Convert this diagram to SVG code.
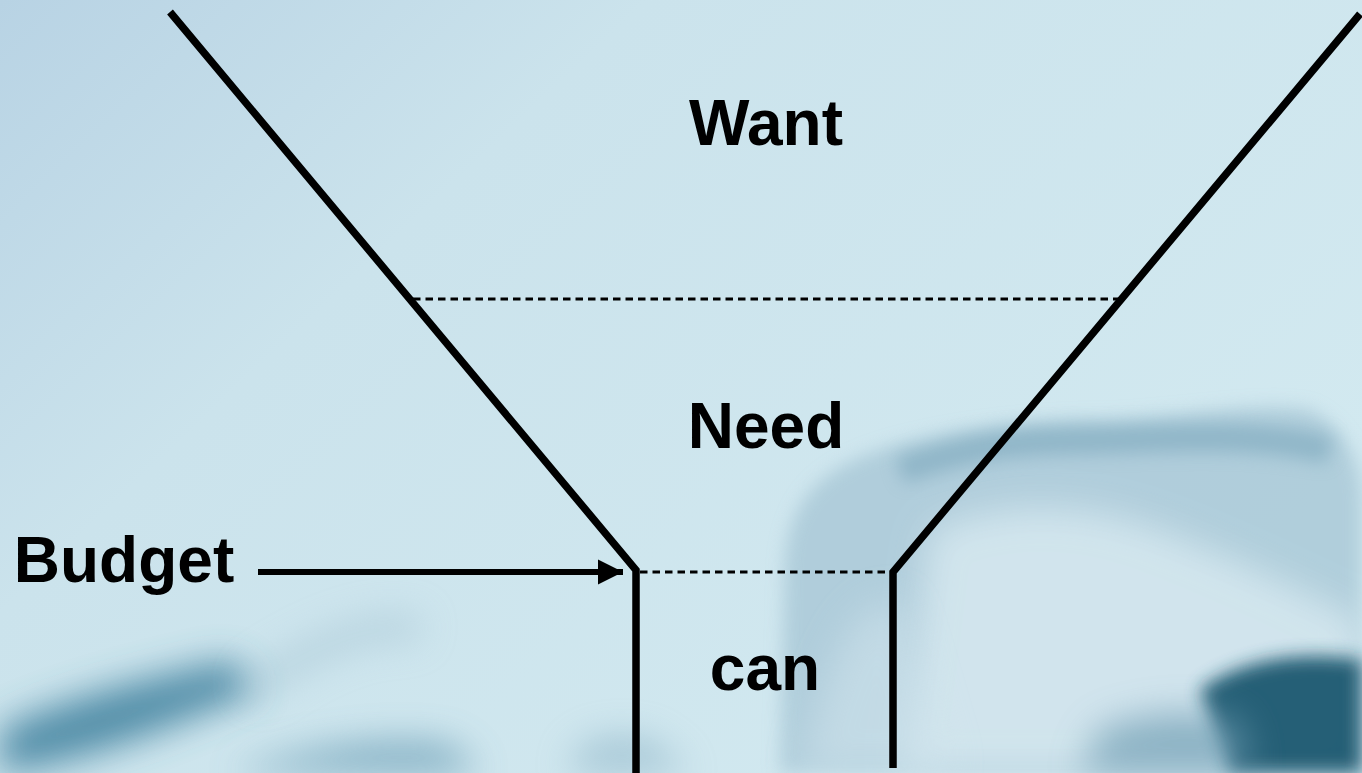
<svg xmlns="http://www.w3.org/2000/svg" width="1362" height="773" viewBox="0 0 1362 773">
<style>
.lbl{font-family:"Liberation Sans",Arial,sans-serif;font-weight:bold;font-size:64px;fill:#000;text-anchor:middle}
.solid{stroke:#000;stroke-width:7.5;fill:none;stroke-linecap:butt;stroke-linejoin:miter}
.dash{stroke:#000;stroke-width:3;fill:none;stroke-dasharray:7.5 5}
</style>
<defs>
<linearGradient id="bg" x1="0" y1="0" x2="1" y2="0.6">
<stop offset="0" stop-color="#b8d3e4"/>
<stop offset="0.35" stop-color="#cbe3ec"/>
<stop offset="1" stop-color="#d2e9f0"/>
</linearGradient>
<filter id="b20" filterUnits="userSpaceOnUse" x="-200" y="-200" width="1762" height="1173"><feGaussianBlur stdDeviation="18"/></filter>
<filter id="b10" filterUnits="userSpaceOnUse" x="-200" y="-200" width="1762" height="1173"><feGaussianBlur stdDeviation="9"/></filter>
<marker id="arr" viewBox="0 0 10 10" refX="10" refY="5" markerWidth="4.2" markerHeight="4.2" markerUnits="strokeWidth" orient="auto">
<path d="M0,0 L10,5 L0,10 Z" fill="#000"/>
</marker>
</defs>
<g id="background">
<rect width="1362" height="773" fill="url(#bg)"/>
<path d="M785,560 C790,500 820,470 880,450 C960,425 1060,420 1100,420 C1160,420 1260,400 1310,410 C1350,430 1362,470 1362,500 L1362,773 L780,773 Z" fill="#a3c3d3" opacity="0.7" filter="url(#b10)"/>
<path d="M900,470 C960,450 1000,440 1080,440 C1150,440 1250,430 1330,450" stroke="#6f9fb5" stroke-width="28" fill="none" opacity="0.5" filter="url(#b10)"/>
<path d="M930,530 C1000,500 1080,500 1160,530 C1240,560 1320,600 1362,620 L1362,773 L900,773 Z" fill="#d3e6ee" opacity="0.95" filter="url(#b20)"/>
<path d="M820,700 C840,640 860,600 900,600 L950,773 L800,773 Z" fill="#cfe3ec" opacity="0.6" filter="url(#b20)"/>
<path d="M1200,690 C1240,660 1300,650 1362,660 L1362,773 L1230,773 Z" fill="#1c5870" opacity="0.95" filter="url(#b10)"/>
<path d="M1100,730 C1150,710 1200,710 1240,720 L1250,773 L1080,773 Z" fill="#6e9cb2" opacity="0.7" filter="url(#b20)"/>
<path d="M0,730 C60,700 140,680 230,660 L260,690 C180,720 100,760 0,773 Z" fill="#3d7f9c" opacity="0.85" filter="url(#b20)"/>
<path d="M230,773 C300,750 380,735 450,745 L480,773 Z" fill="#5f94ae" opacity="0.7" filter="url(#b20)"/>
<path d="M250,690 C320,640 380,620 420,630" stroke="#a6c4d3" stroke-width="25" fill="none" opacity="0.6" filter="url(#b20)"/>
<path d="M570,773 C570,745 600,730 650,740 L690,773 Z" fill="#7aa5bb" opacity="0.5" filter="url(#b20)"/>
</g>
<g id="connectors">
<polyline class="solid" points="170,12 636,570 636,773"/>
<polyline class="solid" points="1360,14 893,572 893,768"/>
<line class="dash" x1="413" y1="299" x2="1122" y2="299"/>
<line class="dash" x1="640" y1="572" x2="891" y2="572"/>
<line x1="258" y1="572" x2="623" y2="572" stroke="#000" stroke-width="6" marker-end="url(#arr)"/>
</g>
<g id="node-want"><text class="lbl" x="766" y="145">Want</text></g>
<g id="node-need"><text class="lbl" x="766" y="448">Need</text></g>
<g id="node-can"><text class="lbl" x="765" y="690">can</text></g>
<g id="node-budget"><text class="lbl" x="124" y="582">Budget</text></g>
</svg>
